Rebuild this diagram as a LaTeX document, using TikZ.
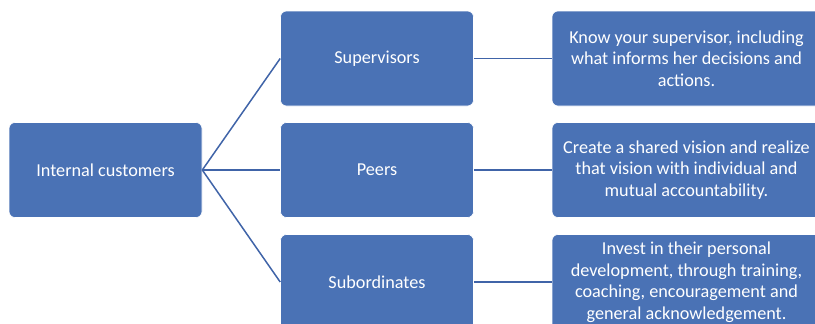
\documentclass[tikz,border=0pt]{standalone}
\usepackage{fontspec}
\setmainfont{Carlito}
\definecolor{boxblue}{RGB}{74,114,181}
\definecolor{lineblue}{RGB}{64,100,168}
\begin{document}
\begin{tikzpicture}[x=1pt,y=-1pt,
  box/.style={draw=white,line width=0.6pt,fill=boxblue,rounded corners=6pt,text=white,
    font=\fontsize{18.2}{21.5}\selectfont,align=center,inner sep=0pt},
  leftbox/.style={box,minimum width=193pt,minimum height=95pt},
  midbox/.style={box,minimum width=193pt,minimum height=95pt},
  rightbox/.style={box,minimum width=269pt,minimum height=95pt},
  conn/.style={draw=lineblue,line width=1.5pt}]
\useasboundingbox (0,0) rectangle (815,324);
\node[leftbox] (ic) at (105.5,170) {Internal customers};
\node[midbox] (sup) at (377,58.5) {Supervisors};
\node[midbox] (peer) at (377,170) {Peers};
\node[midbox] (sub) at (377,282) {Subordinates};
\node[rightbox] (rsup) at (686.5,58.5) {Know your supervisor, including\\what informs her decisions and\\actions.};
\node[rightbox] (rpeer) at (686.5,170) {Create a shared vision and realize\\that vision with individual and\\mutual accountability.};
\node[rightbox] (rsub) at (686.5,282) {Invest in their personal\\development, through training,\\coaching, encouragement and\\general acknowledgement.};
\draw[conn] (ic.east) -- (sup.west);
\draw[conn] (ic.east) -- (peer.west);
\draw[conn] (ic.east) -- (sub.west);
\draw[conn] (sup.east) -- (rsup.west);
\draw[conn] (peer.east) -- (rpeer.west);
\draw[conn] (sub.east) -- (rsub.west);
\end{tikzpicture}
\end{document}
